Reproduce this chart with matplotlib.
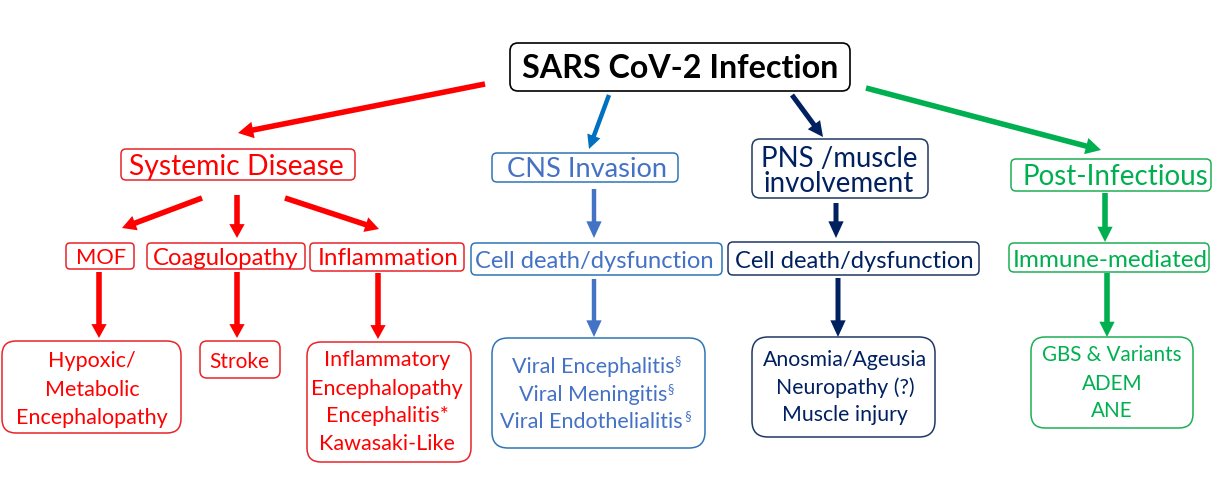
import matplotlib
matplotlib.use('Agg')
import matplotlib.pyplot as plt
from matplotlib.patches import FancyBboxPatch, FancyArrowPatch, ArrowStyle

# ---------------- content ----------------
title = "SARS CoV-2 Infection"
branches = ["Systemic Disease", "CNS Invasion", ["PNS /muscle", "involvement"], "Post-Infectious"]
systemic_mid = ["MOF", "Coagulopathy", "Inflammation"]
systemic_out = [["Hypoxic/", "Metabolic", "Encephalopathy"],
                ["Stroke"],
                ["Inflammatory", "Encephalopathy", "Encephalitis*", "Kawasaki-Like"]]
mid_labels = ["Cell death/dysfunction", "Cell death/dysfunction", "Immune-mediated"]
cns_out = ["Viral Encephalitis", "Viral Meningitis", "Viral Endothelialitis"]
cns_marks = ["§", "§", " §"]
pns_out = ["Anosmia/Ageusia", "Neuropathy (?)", "Muscle injury"]
post_out = ["GBS & Variants", "ADEM", "ANE"]

# ---------------- style ----------------
FONT = ['Lato', 'DejaVu Sans']
RED, RED_E = '#FF0000', '#E8242A'
BLUE_A = '#0070C0'
BLUE, BLUE_E = '#4472C4', '#2E75B6'
NAVY, NAVY_E = '#002060', '#1F3864'
GREEN, GREEN_E = '#00B050', '#1DAF55'
DY = 2  # small vertical nudge of text

W, H = 1217, 490
fig = plt.figure(figsize=(W / 100, H / 100), dpi=100)
ax = fig.add_axes([0, 0, 1, 1])
ax.set_xlim(0, W)
ax.set_ylim(H, 0)
ax.axis('off')
fig.canvas.draw()
R = fig.canvas.get_renderer()


def box(x0, y0, x1, y1, ec, r=6, lw=1.1):
    ax.add_patch(FancyBboxPatch((x0, y0), x1 - x0, y1 - y0,
                                boxstyle=f'round,pad=0,rounding_size={r}',
                                fc='white', ec=ec, lw=lw, zorder=2))


def fit(lines, x, ys, target_w, color, weight='normal'):
    if isinstance(lines, str):
        lines = [lines]
    ts = [ax.text(x, y + DY, s, ha='center', va='center', color=color, fontsize=20,
                  fontweight=weight, family=FONT, zorder=3) for s, y in zip(lines, ys)]
    wmax = max(t.get_window_extent(R).width for t in ts)
    fs = 20 * target_w / wmax
    for t in ts:
        t.set_fontsize(fs)
    return fs


def arrow(p0, p1, color, tail=3.6, hw=11, hl=10):
    st = ArrowStyle.Simple(head_length=hl, head_width=hw, tail_width=tail)
    ax.add_patch(FancyArrowPatch(p0, p1, arrowstyle=st, mutation_scale=1,
                                 color=color, lw=0, shrinkA=0, shrinkB=0, zorder=1))


# ---------------- title ----------------
box(510, 43, 850, 91, 'black', r=8, lw=1.2)
fit(title, 680, [66], 316, 'black', weight='bold')

# ---------------- systemic (red) ----------------
arrow((485, 84), (238, 133), RED, tail=4.0, hw=12, hl=11)
box(121, 149, 355, 180, RED_E, r=5)
fit(branches[0], 236, [165], 215, RED)

mid_boxes = [(66, 243, 134, 269), (147, 243, 305, 269), (310, 243, 464, 271)]
mid_x = [101, 226, 388]
mid_w = [50, 146, 141]
for lab, b, x, w in zip(systemic_mid, mid_boxes, mid_x, mid_w):
    box(*b, RED_E, r=4)
    fit(lab, x, [256], w, RED)

arrow((202, 198), (122, 228), RED, tail=4.0, hw=11, hl=10)
arrow((237, 195), (237, 238), RED, tail=4.0, hw=11, hl=10)
arrow((285, 198), (379, 229), RED, tail=4.0, hw=11, hl=10)
arrow((99, 272), (99, 338), RED, tail=4.0, hw=11, hl=10)
arrow((237, 272), (237, 338), RED, tail=4.0, hw=11, hl=10)
arrow((378, 273), (378, 339), RED, tail=4.0, hw=11, hl=10)

out_boxes = [(2, 341, 181, 433, 14), (200, 341, 280, 378, 7), (307, 342, 471, 462, 14)]
out_x = [92, 239, 387]
out_ys = [[359, 388, 416], [360], [358, 387, 414, 442]]
out_w = [152, 60, 152]
for lines, b, x, ys, w in zip(systemic_out, out_boxes, out_x, out_ys, out_w):
    box(*b[:4], RED_E, r=b[4])
    fit(lines, x, ys, w, RED)

# ---------------- CNS (blue) ----------------
arrow((609, 95), (589, 149), BLUE_A, tail=3.2, hw=10, hl=10)
box(492, 153, 678, 182, BLUE_E, r=5)
fit(branches[1], 587, [167], 160, BLUE)
arrow((594, 189), (594, 238), BLUE, tail=3.2, hw=11, hl=12)
box(471, 243, 722, 275, BLUE_E, r=5)
fit(mid_labels[0], 594, [259], 239, BLUE)
arrow((594, 279), (594, 337), BLUE, tail=3.2, hw=11, hl=12)
box(492, 338, 705, 448, BLUE_E, r=16)

cns_ys = [365, 393, 420]
ts = [ax.text(0, y + DY, s, ha='left', va='center', color=BLUE, fontsize=20,
              family=FONT, zorder=3) for s, y in zip(cns_out, cns_ys)]
fs = 20 * 183 / max(t.get_window_extent(R).width for t in ts)
for t, m, y in zip(ts, cns_marks, cns_ys):
    t.set_fontsize(fs)
    wm = t.get_window_extent(R).width
    sp = ax.text(0, y + DY - 6, m, ha='left', va='center', color=BLUE, fontsize=fs * 0.6,
                 family=FONT, zorder=3)
    ws = sp.get_window_extent(R).width
    x0 = 596 - (wm + ws) / 2
    t.set_x(x0)
    sp.set_x(x0 + wm)

# ---------------- PNS (navy) ----------------
arrow((792, 95), (823, 137), NAVY, tail=3.6, hw=11, hl=11)
box(752, 139, 928, 198, NAVY_E, r=8)
fit(branches[2], 839, [157, 182], 157, NAVY)
arrow((836, 203), (836, 238), NAVY, tail=3.6, hw=11, hl=12)
box(728, 242, 979, 275, NAVY_E, r=5)
fit(mid_labels[1], 854, [259], 239, NAVY)
arrow((838, 278), (838, 337), NAVY, tail=3.6, hw=11, hl=12)
box(752, 337, 935, 437, NAVY_E, r=16)
fit(pns_out, 845, [358, 386, 413], 164, NAVY)

# ---------------- Post-infectious (green) ----------------
arrow((866, 88), (1101, 150), GREEN, tail=4.0, hw=12, hl=11)
box(1011, 159, 1211, 191, GREEN_E, r=5)
fit(branches[3], 1115, [175], 186, GREEN)
arrow((1105, 193), (1105, 242), GREEN, tail=4.0, hw=11, hl=11)
box(1009, 243, 1209, 272, GREEN_E, r=5)
fit(mid_labels[2], 1110, [258], 196, GREEN)
arrow((1107, 273), (1107, 337), GREEN, tail=4.0, hw=11, hl=11)
box(1031, 337, 1193, 428, GREEN_E, r=14)
fit(post_out, 1112, [353, 382, 409], 140, GREEN)

fig.savefig('out.png', dpi=100, facecolor='white')
